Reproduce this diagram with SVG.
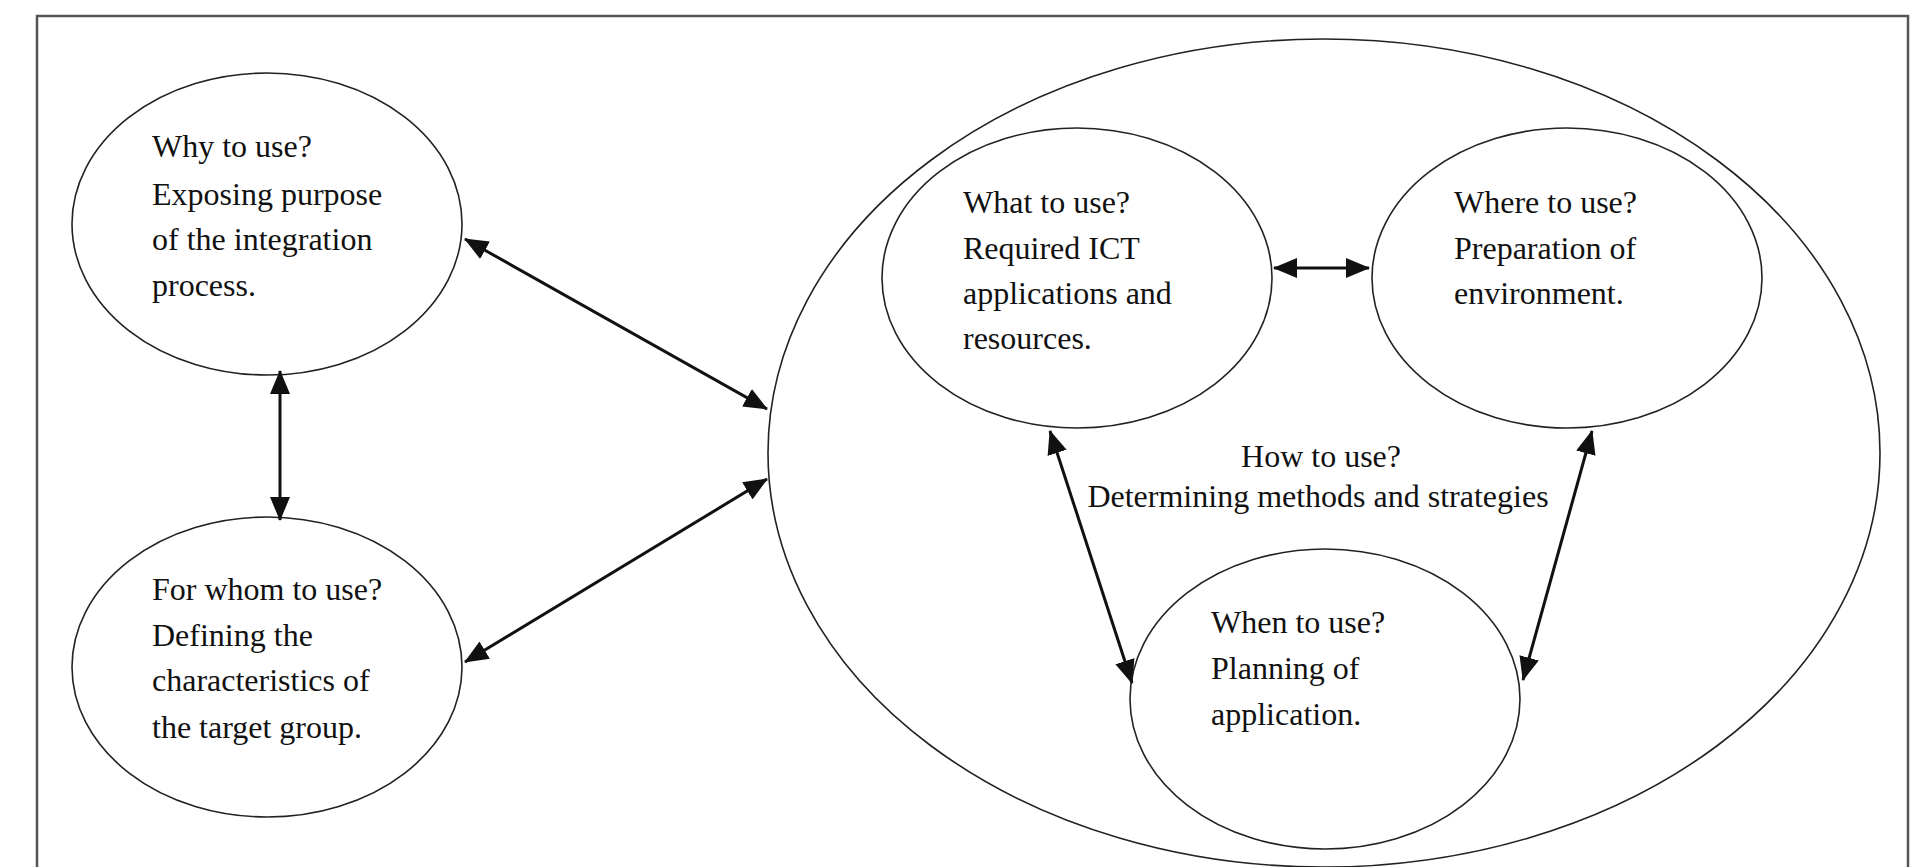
<svg xmlns="http://www.w3.org/2000/svg" width="1912" height="867" viewBox="0 0 1912 867">
<style>
.n{fill:none;stroke:#222;stroke-width:1.6}
.t{font-family:"Liberation Serif",serif;font-size:32px;fill:#111}
.c{stroke:#111;stroke-width:3;fill:none;marker-start:url(#a);marker-end:url(#a)}
</style>
<defs>
<marker id="a" viewBox="0 0 24 20" refX="23" refY="10" markerWidth="24" markerHeight="20" markerUnits="userSpaceOnUse" orient="auto-start-reverse">
<path d="M0,0 L24,10 L0,20 Z" fill="#111"/>
</marker>
</defs>
<rect x="0" y="0" width="1912" height="867" fill="#fff"/>
<rect x="37" y="16" width="1871" height="870" fill="none" stroke="#555" stroke-width="2.5"/>
<g id="why"><ellipse class="n" cx="267" cy="224" rx="195" ry="151"/>
<text class="t" x="152"><tspan x="152" y="157">Why to use?</tspan><tspan x="152" y="205">Exposing purpose</tspan><tspan x="152" y="250">of the integration</tspan><tspan x="152" y="296">process.</tspan></text></g>
<g id="whom"><ellipse class="n" cx="267" cy="667" rx="195" ry="150"/>
<text class="t"><tspan x="152" y="600">For whom to use?</tspan><tspan x="152" y="646">Defining the</tspan><tspan x="152" y="691">characteristics  of</tspan><tspan x="152" y="738">the target group.</tspan></text></g>
<g id="how"><ellipse class="n" cx="1324" cy="453" rx="556" ry="414"/>
<text class="t" text-anchor="middle"><tspan x="1321" y="467">How to use?</tspan><tspan x="1318" y="507">Determining methods and strategies</tspan></text></g>
<g id="what"><ellipse class="n" cx="1077" cy="278" rx="195" ry="150"/>
<text class="t"><tspan x="963" y="213">What to use?</tspan><tspan x="963" y="259">Required ICT</tspan><tspan x="963" y="304">applications and</tspan><tspan x="963" y="349">resources.</tspan></text></g>
<g id="where"><ellipse class="n" cx="1567" cy="278" rx="195" ry="150"/>
<text class="t"><tspan x="1454" y="213">Where to use?</tspan><tspan x="1454" y="259">Preparation of</tspan><tspan x="1454" y="304">environment.</tspan></text></g>
<g id="when"><ellipse class="n" cx="1325" cy="699" rx="195" ry="150"/>
<text class="t"><tspan x="1211" y="633">When to use?</tspan><tspan x="1211" y="679">Planning of</tspan><tspan x="1211" y="725">application.</tspan></text></g>
<g id="connectors">
<line class="c" x1="280" y1="371" x2="280" y2="520"/>
<line class="c" x1="465" y1="239" x2="767" y2="409"/>
<line class="c" x1="465" y1="662" x2="767" y2="479"/>
<line class="c" x1="1274" y1="268" x2="1369" y2="268"/>
<line class="c" x1="1050" y1="431" x2="1132" y2="683"/>
<line class="c" x1="1592" y1="431" x2="1523" y2="680"/>
</g>
</svg>
